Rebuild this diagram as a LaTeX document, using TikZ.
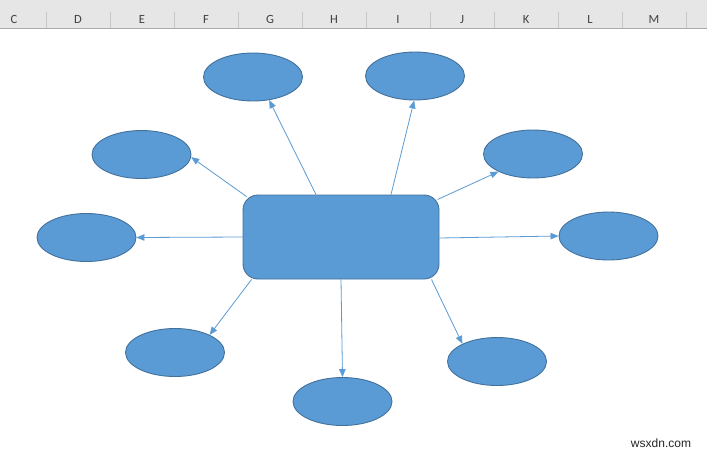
\documentclass[tikz,border=0pt]{standalone}
\usepackage{fontspec}
\setmainfont{Carlito}
\newfontfamily\wmfont{Liberation Sans}
\usetikzlibrary{shapes.geometric,arrows.meta,calc}
\definecolor{shapefill}{HTML}{5B9BD5}
\definecolor{shapeedge}{HTML}{41719C}
\definecolor{hdrbg}{HTML}{E6E6E6}
\definecolor{hdrline}{HTML}{ABABAB}
\definecolor{hdrsep}{HTML}{C8C8C8}
\definecolor{hdrtext}{HTML}{404040}
\tikzset{
  oval/.style={ellipse, draw=shapeedge, fill=shapefill, line width=0.9pt,
    minimum width=99pt, minimum height=48pt, inner sep=0pt},
  hub/.style={rectangle, rounded corners=15pt, draw=shapeedge, fill=shapefill,
    line width=0.9pt, minimum width=196pt, minimum height=84pt, inner sep=0pt},
  link/.style={draw=shapefill, line width=0.8pt, -{Triangle[length=8pt,width=6.5pt]}},
  colhdr/.style={font=\fontsize{12.5}{14}\selectfont, text=hdrtext, inner sep=0pt, anchor=base}
}
\begin{document}
\begin{tikzpicture}[x=1pt,y=-1pt]
\useasboundingbox (0,0) rectangle (707,456);
\fill[white] (0,0) rectangle (707,456);
% header
\fill[hdrbg] (0,0) rectangle (707,28.5);
\draw[hdrline, line width=1pt] (0,28.5) -- (707,28.5);
\foreach \x in {46,110,174,238,302,366,430,494,558,622,686}
  \draw[hdrsep, line width=0.8pt] (\x,12) -- (\x,28);
\foreach \lab/\x [count=\i] in {C/14,D/78,E/142,F/206,G/270,H/334,I/398,J/462,K/526,L/590,M/654}
  \node[colhdr] (h\i) at (\x,23) {\lab};
% shapes
\node[hub] (hub) at (341,237) {};
\node[oval] (e1) at (253,77) {};
\node[oval] (e2) at (415,76) {};
\node[oval] (e3) at (141.5,154.5) {};
\node[oval] (e4) at (533,154) {};
\node[oval] (e5) at (86.5,237.5) {};
\node[oval] (e6) at (608.5,236) {};
\node[oval] (e7) at (175,352.5) {};
\node[oval] (e8) at (497,361.5) {};
\node[oval] (e9) at (342.5,401.5) {};
% connectors
\draw[link] ($(hub.north)+(-25,0)$) -- (e1.-55);
\draw[link] ($(hub.north)+(50,0)$) -- (e2.-92);
\draw[link] ($(hub.north west)+(4,2)$) -- (e3.-3);
\draw[link] ($(hub.north east)+(-2,5)$) -- (e4.-153);
\draw[link] (hub.west) -- (e5.0);
\draw[link] ($(hub.east)+(0,1)$) -- (e6.180);
\draw[link] ($(hub.south west)+(9,0)$) -- (e7.27);
\draw[link] (hub.south) -- (e9.90);
\draw[link] ($(hub.south east)+(-8,0)$) -- (e8.153);
% watermark
\node[font=\wmfont\fontsize{12}{14}\selectfont, text=black!85, inner sep=0pt] (wm) at (661,443) {wsxdn.com};
\end{tikzpicture}
\end{document}
